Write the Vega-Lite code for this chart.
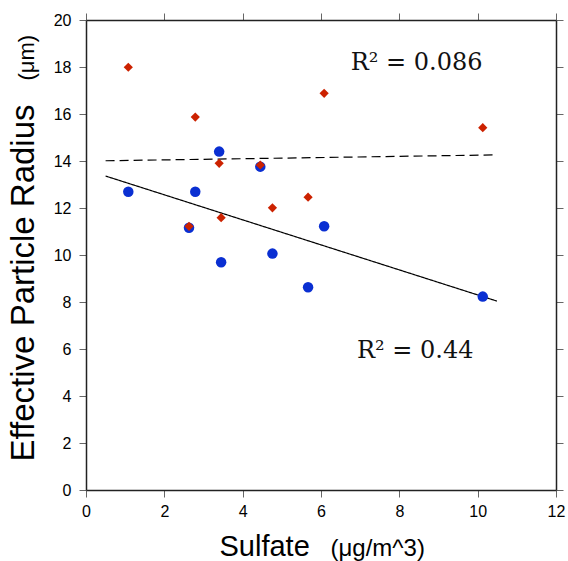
{
  "$schema": "https://vega.github.io/schema/vega-lite/v6.json",
  "width": 470,
  "height": 470,
  "autosize": {"type": "none"},
  "padding": {"left": 86, "top": 20, "right": 12, "bottom": 71},
  "background": "white",
  "config": {
    "view": {"stroke": null},
    "axis": {
      "grid": false,
      "labelFont": "Liberation Sans",
      "labelFontSize": 16,
      "labelColor": "#000",
      "titleFont": "Liberation Sans",
      "titleFontWeight": "normal",
      "titleColor": "#000",
      "tickSize": 7,
      "tickColor": "#666",
      "tickWidth": 1,
      "domainColor": "#222",
      "domainWidth": 1.5,
      "labelFlush": false,
      "labelOverlap": false
    }
  },
  "datasets": {
    "points": [
      {"sulfate": 1.08, "radius": 12.69, "series": "A"},
      {"sulfate": 2.63, "radius": 11.16, "series": "A"},
      {"sulfate": 2.79, "radius": 12.69, "series": "A"},
      {"sulfate": 3.40, "radius": 14.40, "series": "A"},
      {"sulfate": 3.45, "radius": 9.69, "series": "A"},
      {"sulfate": 4.45, "radius": 13.76, "series": "A"},
      {"sulfate": 4.76, "radius": 10.06, "series": "A"},
      {"sulfate": 5.67, "radius": 8.63, "series": "A"},
      {"sulfate": 6.08, "radius": 11.22, "series": "A"},
      {"sulfate": 10.13, "radius": 8.23, "series": "A"},
      {"sulfate": 1.08, "radius": 17.99, "series": "B"},
      {"sulfate": 2.63, "radius": 11.22, "series": "B"},
      {"sulfate": 2.79, "radius": 15.87, "series": "B"},
      {"sulfate": 3.40, "radius": 13.90, "series": "B"},
      {"sulfate": 3.45, "radius": 11.59, "series": "B"},
      {"sulfate": 4.45, "radius": 13.83, "series": "B"},
      {"sulfate": 4.76, "radius": 12.01, "series": "B"},
      {"sulfate": 5.67, "radius": 12.46, "series": "B"},
      {"sulfate": 6.08, "radius": 16.88, "series": "B"},
      {"sulfate": 10.13, "radius": 15.42, "series": "B"}
    ],
    "fits": [
      {"sulfate": 0.5, "radius": 13.36, "fit": "A"},
      {"sulfate": 10.49, "radius": 8.04, "fit": "A"},
      {"sulfate": 0.5, "radius": 14.01, "fit": "B"},
      {"sulfate": 10.49, "radius": 14.26, "fit": "B"}
    ],
    "notes": [
      {"sulfate": 6.76, "radius": 17.87, "label": "R² = 0.086"},
      {"sulfate": 6.92, "radius": 5.62, "label": "R² = 0.44"}
    ]
  },
  "layer": [
    {
      "data": {"name": "fits"},
      "mark": {"type": "line", "color": "#000", "strokeWidth": 1.2},
      "encoding": {
        "x": {"field": "sulfate", "type": "quantitative", "scale": {"domain": [0, 12], "nice": false},
          "axis": {"orient": "top", "values": [0, 2, 4, 6, 8, 10, 12], "labels": false, "title": null}},
        "y": {"field": "radius", "type": "quantitative", "scale": {"domain": [0, 20], "nice": false},
          "axis": {"orient": "right", "values": [0, 2, 4, 6, 8, 10, 12, 14, 16, 18, 20], "labels": false, "title": null}},
        "detail": {"field": "fit", "type": "nominal"},
        "strokeDash": {"field": "fit", "type": "nominal", "legend": null,
          "scale": {"domain": ["A", "B"], "range": [[1, 0], [9, 5]]}}
      }
    },
    {
      "data": {"name": "points"},
      "transform": [{"filter": "datum.series === 'A'"}],
      "mark": {"type": "point", "shape": "circle", "filled": true, "size": 110, "color": "#0a2fd2", "opacity": 1},
      "encoding": {
        "x": {"field": "sulfate", "type": "quantitative",
          "axis": {"orient": "bottom", "values": [0, 2, 4, 6, 8, 10, 12], "labelPadding": 6,
            "title": "Sulfate", "titleFontSize": 29, "titleAlign": "left", "titleBaseline": "alphabetic",
            "titleX": 133, "titleY": 65}},
        "y": {"field": "radius", "type": "quantitative",
          "axis": {"orient": "left", "values": [0, 2, 4, 6, 8, 10, 12, 14, 16, 18, 20], "labelPadding": 8,
            "title": "Effective Particle Radius", "titleFontSize": 33, "titleAngle": -90, "titleAlign": "left",
            "titleBaseline": "alphabetic", "titleX": -53, "titleY": 441}}
      }
    },
    {
      "data": {"name": "points"},
      "transform": [{"filter": "datum.series === 'B'"}],
      "mark": {"type": "point", "shape": "diamond", "filled": true, "size": 85, "color": "#cc2200", "opacity": 1},
      "encoding": {
        "x": {"field": "sulfate", "type": "quantitative", "axis": null},
        "y": {"field": "radius", "type": "quantitative", "axis": null}
      }
    },
    {
      "data": {"name": "notes"},
      "mark": {"type": "text", "align": "left", "baseline": "alphabetic", "font": "DejaVu Serif", "fontSize": 24, "color": "#111"},
      "encoding": {
        "x": {"field": "sulfate", "type": "quantitative",
          "axis": {"orient": "bottom", "domain": false, "ticks": false, "labels": false,
            "title": "(μg/m^3)", "titleFontSize": 24, "titleAlign": "left", "titleBaseline": "alphabetic",
            "titleX": 244, "titleY": 65}},
        "y": {"field": "radius", "type": "quantitative",
          "axis": {"orient": "left", "domain": false, "ticks": false, "labels": false,
            "title": "(μm)", "titleFontSize": 22, "titleAngle": -90, "titleAlign": "left",
            "titleBaseline": "alphabetic", "titleX": -53, "titleY": 60}},
        "text": {"field": "label", "type": "nominal"}
      }
    }
  ],
  "resolve": {"axis": {"x": "independent", "y": "independent"}}
}
